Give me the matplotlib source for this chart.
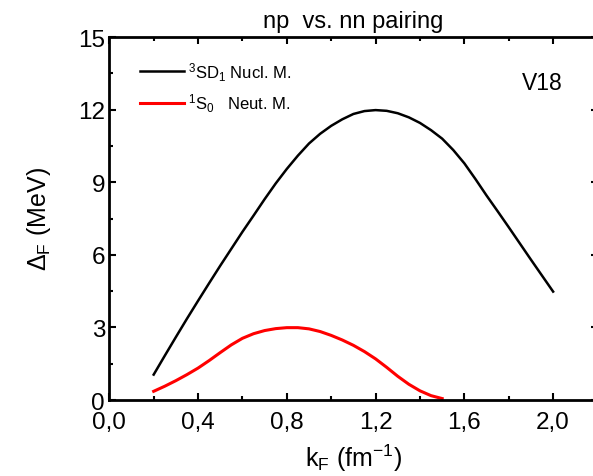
import numpy as np
import matplotlib.pyplot as plt
from matplotlib.ticker import MultipleLocator, FuncFormatter

plt.rcParams['font.family'] = ['Liberation Sans', 'DejaVu Sans']
plt.rcParams['mathtext.fontset'] = 'custom'
plt.rcParams['mathtext.rm'] = 'Liberation Sans'
plt.rcParams['mathtext.it'] = 'Liberation Sans:italic'
plt.rcParams['mathtext.default'] = 'regular'

# 3SD1 gap in nuclear matter (V18)
k_np = [0.2, 0.25, 0.3, 0.35, 0.4, 0.45, 0.5, 0.55, 0.6, 0.65,
        0.7, 0.75, 0.8, 0.85, 0.9, 0.95, 1.0, 1.05, 1.1, 1.15,
        1.2, 1.25, 1.3, 1.35, 1.4, 1.45, 1.5, 1.55, 1.6, 1.65,
        1.7, 1.75, 1.8, 1.85, 1.9, 1.95, 2.0]
gap_np = [1.05, 1.83, 2.6, 3.36, 4.1, 4.83, 5.55, 6.25, 6.95, 7.62,
          8.3, 8.95, 9.55, 10.1, 10.6, 11.0, 11.33, 11.6, 11.82, 11.94,
          11.98, 11.95, 11.85, 11.68, 11.45, 11.15, 10.8, 10.33, 9.78, 9.13,
          8.45, 7.8, 7.14, 6.47, 5.8, 5.14, 4.48]

# 1S0 gap in neutron matter
k_nn = [0.2, 0.25, 0.3, 0.35, 0.4, 0.45, 0.5, 0.55, 0.6, 0.65,
        0.7, 0.75, 0.8, 0.85, 0.9, 0.95, 1.0, 1.05, 1.1, 1.15,
        1.2, 1.25, 1.3, 1.35, 1.4, 1.45, 1.5]
gap_nn = [0.36, 0.57, 0.8, 1.05, 1.32, 1.63, 1.96, 2.28, 2.55, 2.74,
          2.87, 2.95, 2.99, 2.99, 2.94, 2.83, 2.67, 2.48, 2.26, 2.0,
          1.7, 1.35, 0.98, 0.65, 0.38, 0.18, 0.06]

fig = plt.figure(figsize=(5.93, 4.77), dpi=100)
ax = fig.add_axes([0.1843, 0.1593, 0.8233, 0.761])

ax.plot(k_np, gap_np, color='black', lw=1.8, label=r'$^3$SD$_1$ Nucl. M.')
ax.plot(k_nn, gap_nn, color='red', lw=2.2, label=r'$^1$S$_0$   Neut. M.')

ax.set_xlim(0.0, 2.2)
ax.set_ylim(0, 15)
ax.xaxis.set_major_locator(MultipleLocator(0.4))
ax.xaxis.set_minor_locator(MultipleLocator(0.2))
ax.yaxis.set_major_locator(MultipleLocator(3))
ax.yaxis.set_minor_locator(MultipleLocator(1.5))
ax.xaxis.set_major_formatter(FuncFormatter(lambda v, p: f'{v:.1f}'.replace('.', ',')))

ax.tick_params(which='both', direction='in', top=True, right=True, width=1.5)
ax.tick_params(which='major', length=5, labelsize=17.5, pad=3)
ax.tick_params(axis='x', which='major', pad=8)
ax.tick_params(which='minor', length=3)
for s in ax.spines.values():
    s.set_linewidth(2)

ax.set_xlabel(r'k$_F$ (fm$^{-1}$)', fontsize=18, labelpad=6)
ax.set_ylabel(r'$\Delta_F$ (MeV)', fontsize=18, labelpad=18)
ax.set_title('np  vs. nn pairing', fontsize=17, pad=7)

ax.text(0.886, 0.874, 'V18', transform=ax.transAxes, fontsize=16.5,
        ha='center', va='center')

ax.legend(loc='upper left', bbox_to_anchor=(0.05, 0.955), frameon=False,
          fontsize=12, handlelength=2.6, handletextpad=0.25, labelspacing=0.55,
          borderaxespad=0)

plt.savefig('out.png', dpi=100)
